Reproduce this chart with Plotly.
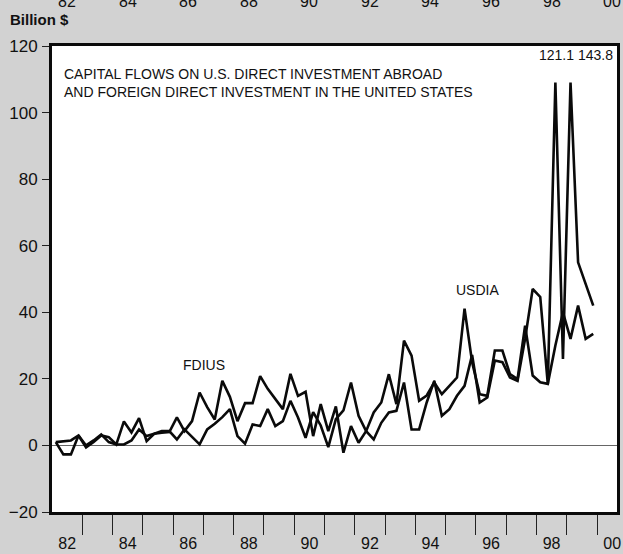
import plotly.graph_objects as go
import numpy as np

# Quarterly capital flows, billion $, 1982Q1 - 1999Q4
start_year = 1982
FDIUS = [
    1.0, -2.7, -2.7, 3.0,
    -0.6, 1.0, 3.0, 2.5,
    0.3, 7.2, 3.9, 8.2,
    1.3, 3.5, 3.8, 4.0,
    8.4, 4.3, 7.3, 15.9,
    11.5, 7.8, 19.4, 14.6,
    7.3, 12.7, 12.7, 20.8,
    17.0, 14.0, 10.9, 21.5,
    14.9, 16.1, 2.8, 12.4,
    4.3, 11.7, -2.2, 5.8,
    0.8, 4.3, 1.8, 6.8,
    9.9, 10.4, 18.9, 4.8,
    4.8, 12.9, 19.4, 8.9,
    10.9, 14.9, 17.9, 27.2,
    12.9, 14.4, 25.5, 25.0,
    20.4, 19.4, 32.0, 47.0,
    44.6, 18.4, 121.1, 26.0,
    143.8, 55.0, 48.5, 42.0,
]
USDIA = [
    1.0, 1.2, 1.5, 3.0,
    0.0, 1.5, 3.3, 1.0,
    0.3, 0.3, 1.5, 4.8,
    2.8, 3.5, 4.3, 4.3,
    1.8, 4.8, 2.5, 0.3,
    4.8, 6.5, 8.5, 10.9,
    2.8, 0.5, 6.3, 5.8,
    10.9, 5.8, 7.3, 13.4,
    8.4, 2.3, 10.0, 6.0,
    -0.5, 7.9, 10.5, 18.9,
    8.9, 4.3, 9.9, 12.9,
    21.4, 12.4, 31.5, 27.0,
    13.4, 15.0, 18.9, 15.4,
    17.9, 20.4, 41.1, 25.0,
    15.4, 14.9, 28.5, 28.5,
    21.4, 19.9, 36.0, 21.0,
    19.0, 18.5, 30.0, 40.0,
    32.0, 42.0, 32.0, 33.5,
]
year_labels = ["82", "84", "86", "88", "90", "92", "94", "96", "98", "00"]
label_years = [1982, 1984, 1986, 1988, 1990, 1992, 1994, 1996, 1998, 2000]
y_ticks = [-20, 0, 20, 40, 60, 80, 100, 120]
CAP = 109  # off-scale values are truncated on the chart and labelled

x = [start_year + (i + 0.5) / 4 for i in range(len(FDIUS))]
FONT = "Liberation Sans, Arial, Helvetica, sans-serif"
BG = "#d2d2d2"

fig = go.Figure()
for name, vals in [("FDIUS", FDIUS), ("USDIA", USDIA)]:
    fig.add_trace(go.Scatter(
        x=x, y=np.minimum(np.array(vals), CAP), mode="lines", name=name,
        line=dict(color="#0a0a0a", width=2.6), showlegend=False,
        hoverinfo="skip"))

xr = [1982.0, 2000.66]
fig.update_layout(
    width=623, height=554,
    margin=dict(l=52, r=6, t=46, b=42),
    paper_bgcolor=BG, plot_bgcolor="white",
    font=dict(family=FONT, color="#111"),
    xaxis=dict(
        range=xr, showgrid=False, zeroline=False, automargin=False,
        showline=True, linecolor="#0a0a0a", linewidth=3, mirror=True,
        tickmode="array", tickvals=[y + 0.5 for y in label_years],
        ticktext=year_labels, ticks="outside", ticklen=15,
        tickcolor="rgba(0,0,0,0)", tickfont=dict(size=16, color="#111"),
        minor=dict(tickmode="array", tickvals=list(range(1983, 2001)),
                   ticks="outside", ticklen=20, tickwidth=1,
                   tickcolor="#222", showgrid=False),
    ),
    yaxis=dict(
        range=[-20, 120], showgrid=False, automargin=False,
        zeroline=True, zerolinecolor="#666", zerolinewidth=1,
        showline=True, linecolor="#0a0a0a", linewidth=3, mirror=True,
        tickmode="array", tickvals=y_ticks, ticks="outside", ticklen=7,
        tickwidth=1, tickcolor="#222", tickfont=dict(size=17, color="#111"),
        ticklabelstandoff=1,
    ),
)

ann = [
    dict(text="CAPITAL FLOWS ON U.S. DIRECT INVESTMENT ABROAD<br>AND FOREIGN DIRECT INVESTMENT IN THE UNITED STATES",
         xref="paper", yref="paper", x=0.0177, y=0.962, xanchor="left", yanchor="top",
         align="left", showarrow=False, font=dict(size=14, color="#111")),
    dict(text="FDIUS", xref="x", yref="y", x=1987.02, y=24.2, showarrow=False,
         font=dict(size=14, color="#111")),
    dict(text="USDIA", xref="x", yref="y", x=1996.04, y=46.7, showarrow=False,
         font=dict(size=14, color="#111")),
    dict(text="121.1 143.8", xref="x", yref="y", x=2000.58, y=117.3, xanchor="right",
         showarrow=False, font=dict(size=14, color="#111")),
    dict(text="<b>Billion $</b>", xref="paper", yref="paper", x=-0.078, y=1.0558,
         xanchor="left", yanchor="middle", showarrow=False,
         font=dict(size=15, color="#111")),
]
for yl, lab in zip(label_years, year_labels):
    ann.append(dict(text=lab, xref="x", yref="paper", x=yl + 0.5, y=1.073,
                    xanchor="center", yanchor="bottom", showarrow=False,
                    font=dict(size=16, color="#111")))
fig.update_layout(annotations=ann)

fig.write_html(
    "out.html",
    config={"displayModeBar": False},
    post_script=("document.body.style.margin='0';"
                 "document.body.style.overflow='hidden';"
                 "document.body.style.background='" + BG + "';"),
)
